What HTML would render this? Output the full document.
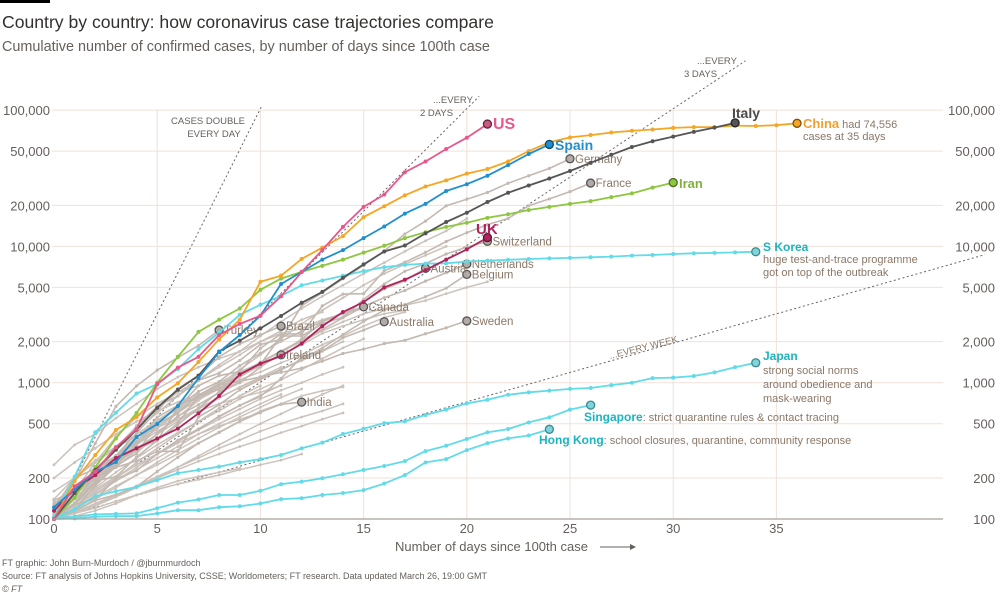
<!DOCTYPE html>
<html><head><meta charset="utf-8"><style>
html,body{margin:0;padding:0;background:#fff;}
body{width:1000px;height:593px;overflow:hidden;font-family:"Liberation Sans",sans-serif;}
svg text{font-family:"Liberation Sans",sans-serif;}
</style></head><body>
<svg id="chart" width="1000" height="593" viewBox="0 0 1000 593" xmlns="http://www.w3.org/2000/svg">
<rect x="0" y="0" width="50" height="3" fill="#000"/>
<text x="2" y="28" font-size="17.6" fill="#33302e">Country by country: how coronavirus case trajectories compare</text>
<text x="2" y="51" font-size="14.4" fill="#66605c">Cumulative number of confirmed cases, by number of days since 100th case</text>
<g id="grid"></g>
<g id="refs"></g>
<g id="grays"></g>
<g id="series"></g>
<g id="axes"></g>
<g font-size="9.5" fill="#66605c">
<text x="208" y="124" text-anchor="middle">CASES DOUBLE</text>
<text x="214" y="137" text-anchor="middle">EVERY DAY</text>
<text x="433" y="103">...EVERY</text>
<text x="420" y="116">2 DAYS</text>
<text x="697" y="64">...EVERY</text>
<text x="684" y="77">3 DAYS</text>
<text x="610" y="359" fill="#8a7868" transform="rotate(-14 610 359)">...EVERY WEEK</text>
</g>
<g font-size="11" fill="#8a7868">
<text x="493" y="129" font-size="16" font-weight="bold" fill="#e8578a">US</text>
<text x="555" y="150" font-size="14" font-weight="bold" fill="#1f8fce">Spain</text>
<text x="732" y="118" font-size="14" font-weight="bold" fill="#4a4a4a">Italy</text>
<text x="803" y="128"><tspan font-size="13" font-weight="bold" fill="#f0a030">China</tspan> had 74,556</text>
<text x="803" y="140">cases at 35 days</text>
<text x="679" y="188" font-size="13" font-weight="bold" fill="#7eb23a">Iran</text>
<text x="476" y="234" font-size="15" font-weight="bold" fill="#b0245c">UK</text>
<text x="763" y="251" font-size="12" font-weight="bold" fill="#1ab5bf">S Korea</text>
<text x="763" y="263">huge test-and-trace programme</text>
<text x="763" y="276">got on top of the outbreak</text>
<text x="763" y="360" font-size="12" font-weight="bold" fill="#1ab5bf">Japan</text>
<text x="763" y="374">strong social norms</text>
<text x="763" y="388">around obedience and</text>
<text x="763" y="402">mask-wearing</text>
<text x="584" y="421"><tspan font-size="12" font-weight="bold" fill="#1ab5bf">Singapore</tspan>: strict quarantine rules &amp; contact tracing</text>
<text x="539" y="444"><tspan font-size="12" font-weight="bold" fill="#1ab5bf">Hong Kong</tspan>: school closures, quarantine, community response</text>
</g>
<text x="395" y="551" font-size="13" fill="#66605c">Number of days since 100th case</text>
<line x1="600" y1="547" x2="632" y2="547" stroke="#66605c" stroke-width="1"/>
<polygon points="630,544 636,547 630,550" fill="#66605c"/>
<g font-size="9" fill="#66605c">
<text x="2" y="566">FT graphic: John Burn-Murdoch / @jburnmurdoch</text>
<text x="2" y="579">Source: FT analysis of Johns Hopkins University, CSSE; Worldometers; FT research. Data updated March 26, 19:00 GMT</text>
<text x="2" y="592" font-style="italic">© FT</text>
</g>
</svg>
<script>
const xTicks=[0,5,10,15,20,25,30,35];
const yTicks=[100,200,500,1000,2000,5000,10000,20000,50000,100000];
const yTickLabels=["100","200","500","1,000","2,000","5,000","10,000","20,000","50,000","100,000"];
const doublingDays=[1,2,3,7];
const usCases=[100,174,222,337,457,977,1290,1550,2240,2700,3100,4300,6500,9400,13900,19500,24000,35000,42000,51800,62700,79000];
const spainCases=[122,165,222,262,400,498,675,1080,1680,2240,3100,5300,6500,8000,9400,11500,14000,17400,20500,25500,28600,33000,39500,47600,56000];
const italyCases=[100,155,229,322,453,655,888,1128,1694,2036,2502,3089,3858,4636,5883,7375,9172,10149,12462,15113,17660,21157,24747,27980,31506,35713,41035,47021,53578,59138,63927,69176,74386,80589];
const chinaCases=[100,190,295,450,560,780,990,1420,2080,2900,5500,6100,8100,9800,11900,16400,19700,23700,27500,30500,34200,37000,42000,50000,58000,63000,65600,68500,70500,72000,74000,75000,75000,77000,76500,77500,80000];
const iranCases=[100,143,240,390,600,1000,1550,2360,2900,3500,4800,5800,6500,7200,8000,9000,10100,11500,12700,13900,14900,16200,17200,18500,19500,20500,21500,23000,24500,27000,29400];
const ukCases=[115,165,210,280,330,390,460,595,800,1150,1380,1570,1940,2600,3300,3900,5000,5700,6700,8000,9500,11600];
const sKoreaCases=[104,204,433,602,833,977,1261,1766,2337,3150,3736,4335,5186,5621,6088,6593,7041,7314,7478,7513,7755,7869,7979,8086,8162,8236,8320,8413,8565,8652,8799,8897,8961,9037,9137];
const japanCases=[100,118,147,160,172,193,217,229,242,260,275,295,330,363,420,460,505,520,580,635,705,750,815,850,875,900,915,960,1000,1080,1090,1120,1190,1300,1400];
const singaporeCases=[102,104,108,109,110,120,132,139,150,150,161,180,188,199,213,229,245,266,315,345,386,432,457,511,557,635,685];
const hongKongCases=[100,101,104,105,105,110,116,116,122,124,130,140,142,150,155,163,182,210,260,275,320,360,390,410,455];
const germanyCases=[130,159,196,262,482,670,799,1040,1176,1457,1908,2078,3675,4585,5795,7272,9257,12327,15320,19848,22213,24873,29056,32986,37323,43938];
const franceCases=[100,130,191,204,285,377,653,949,1126,1209,1784,2281,2281,3661,4469,4499,6633,7652,9043,10871,12612,14459,16018,19856,22304,25233,29155];
const switzerlandCases=[100,130,214,268,337,374,491,652,858,1125,1359,2200,2200,2700,3028,4075,5294,6575,7474,8795,9877,10897];
const netherlandsCases=[100,128,188,265,321,382,503,804,959,1135,1413,1705,2051,2460,2994,3631,4204,4749,5560,6412,7431];
const belgiumCases=[109,169,200,239,267,314,314,559,689,886,1058,1243,1486,1795,2257,2815,3401,3743,4269,4937,6235];
const austriaCases=[102,131,182,246,302,504,655,860,1018,1332,1646,2013,2388,2814,3244,3924,4876,5588,6909];
const canadaCases=[103,117,176,244,304,424,569,690,846,1000,1300,1650,2088,2792,3251,3600];
const australiaCases=[107,128,140,197,226,300,377,453,568,681,791,1071,1549,1709,2136,2431,2800];
const swedenCases=[137,161,203,248,355,500,599,814,961,1022,1103,1190,1279,1439,1639,1763,1934,2046,2286,2526,2840];
const turkeyCases=[100,191,359,670,947,1236,1529,1872,2433];
const brazilCases=[121,200,234,291,428,621,904,1128,1546,1924,2247,2600];
const irelandCases=[129,169,223,292,366,557,683,785,906,1125,1329,1600];
const indiaCases=[100,114,137,151,173,223,283,360,433,519,606,694,720];
const otherCases=[
[250,350,420,550,700,900,1100,1300,1500,1700,2000,2300,2500,2900,3200,3500],
[100,150,230,330,480,650,850,1050,1300,1600,2000,2400,2900,3300],
[100,130,170,220,280,350,430,520,620,760,900,1050,1250,1500,1800,2100],
[110,140,190,260,350,470,620,800,1000,1200,1400,1700],
[100,120,150,200,260,330,420,520,650,800,950],
[120,160,210,280,360,460,600,760,900],
[100,115,140,170,210,260,320,390,470,560,660,780,900],
[100,140,200,290,400,520,640,780,920,1050,1200,1400,1600,1900,2200,2600,3000,3300],
[105,125,155,190,230,280,340,420,500,590,700,820],
[100,160,260,400,560,700,850,950],
[130,170,220,290,380,480,610,750,900,1100,1350,1600,1900,2300,2600,2900,3200,3400],
[100,112,130,150,175,205,240,280,330,380,440,500,560,620,700],
[100,125,160,200,250,300,370,450,540,640,760,880,1000,1150,1300],
[115,150,200,270,350,440,540,650,780,920,1080,1250,1450,1700,2000],
[100,110,125,145,170,200,240,290,350,420,500,590,700,820,950],
[100,130,165,205,250,300,360,420,480,540,600],
[100,120,145,175,210,250,300,360,430,520,620,700,800,870,930],
[100,110,120,135,150,165,180,195,210,230,250,270,300],
[100,105,115,130,150,170,190,205,220,235],
[100,140,190,250,330,420,520,640,770,930,1100,1300],
[160,200,260,330,420,530,660,810,980,1180,1400,1700,2000,2400,2800,3200,3500,3700,4000,4500,5000,5500],
[100,130,180,240,320,420,560,740,960,1250,1600,2100,2700,3400,4200,5200,6300,7400,8600,10000],
[100,150,220,320,450,600,800,1050,1350,1700,2200,2800,3500,4300,5200,6300,7600,9200,11000,13000,16000],
[140,200,270,340,400,470,540,620,700,780,850,950],
[100,120,150,190,240,300,380,460,560,680,810,960],
[200,260,330,420,520,620,720,820,900,1000],
[100,112,128,148,172,200,230,265,300,340,380,430,480,540,600]
];
const labeledGrayNames=["Germany","France","Switzerland","Netherlands","Belgium","Austria","Canada","Australia","Sweden","Turkey","Brazil","Ireland","India"];
const labeledGraySeries=[germanyCases,franceCases,switzerlandCases,netherlandsCases,belgiumCases,austriaCases,canadaCases,australiaCases,swedenCases,turkeyCases,brazilCases,irelandCases,indiaCases];

const NS="http://www.w3.org/2000/svg";
const X0=54, DX=20.64, Y0=519, DEC=136.3, XR=943;
function xs(d){return X0+d*DX;}
function ys(v){return Y0-DEC*Math.log10(v/100);}
function mk(tag,attrs,parent){const e=document.createElementNS(NS,tag);for(const k in attrs)e.setAttribute(k,attrs[k]);parent.appendChild(e);return e;}

const grid=document.getElementById('grid');
yTicks.forEach((v,i)=>{
  const l=mk('line',{x1:52,x2:XR,y1:ys(v),y2:ys(v),stroke:'#efe2d8','stroke-width':1},grid);
  
  
});
xTicks.forEach(d=>{ if(d===0)return;
  const l=mk('line',{x1:xs(d),x2:xs(d),y1:ys(100000),y2:Y0,stroke:'#efe2d8','stroke-width':1},grid);
  
  
});
const axes=document.getElementById('axes');
const base=mk('line',{x1:52,x2:XR,y1:Y0,y2:Y0,stroke:'#a8a09a','stroke-width':1.2},axes);


yTicks.forEach((v,i)=>{
  const t=mk('text',{x:50,y:ys(v)+5,'text-anchor':'end','font-size':13,fill:'#66605c'},axes);
  t.textContent=yTickLabels[i];
  
  
  const r=mk('text',{x:995,y:ys(v)+5,'text-anchor':'end','font-size':13,fill:'#66605c'},axes);
  r.textContent=yTickLabels[i];
  
  
});
xTicks.forEach(d=>{
  const t=mk('text',{x:xs(d),y:533,'text-anchor':'middle','font-size':13,fill:'#66605c'},axes);
  t.textContent=String(d);
  
  
});
const refs=document.getElementById('refs');
const refEnds=[10.05,20.6,33.5,45.1];
doublingDays.forEach((p,i)=>{
  const dEnd=refEnds[i];
  const l=mk('line',{x1:xs(0),y1:ys(100),x2:xs(dEnd),y2:ys(100*Math.pow(2,dEnd/p)),stroke:'#666','stroke-width':1,'stroke-dasharray':'2,2.5'},refs);
  
  
});
function pathOf(arr){return arr.map((v,i)=>(i?'L':'M')+xs(i).toFixed(1)+','+ys(v).toFixed(1)).join('');}
function drawSeries(arr,color,parent,w,dotR,endFill,endStroke){
  const g=mk('g',{},parent);
  const p=mk('path',{d:pathOf(arr),fill:'none',stroke:color,'stroke-width':w,'stroke-linejoin':'round'},g);
  
  
  arr.forEach((v,i)=>{ if(i===arr.length-1&&endFill)return;
    const c=mk('circle',{cx:xs(i),cy:ys(v),r:dotR,fill:color},g);
    
    
  });
  if(endFill){
    const n=arr.length-1;
    const c=mk('circle',{cx:xs(n),cy:ys(arr[n]),r:4,fill:endFill,stroke:endStroke,'stroke-width':1.3},g);
    
    
  }
  return g;
}
const grays=document.getElementById('grays');
otherCases.forEach(a=>{
  const g=drawSeries(a,'#cbc2bb',grays,1.5,1.4,null,null);
  
  
});
labeledGraySeries.forEach((a,i)=>{
  const g=drawSeries(a,'#c3b9b1',grays,1.6,1.6,'#b3aba5','#555');
  
  
  const n=a.length-1;
  const t=mk('text',{x:xs(n)+5,y:ys(a[n])+4,'font-size':11.5,fill:'#8a7868'},grays);
  t.textContent=labeledGrayNames[i];
  
  
});
const series=document.getElementById('series');
const cyan='#62dbe8';
[[hongKongCases,'hong-kong'],[singaporeCases,'singapore'],[japanCases,'japan'],[sKoreaCases,'s-korea']].forEach(([a,n])=>{
  const g=drawSeries(a,cyan,series,1.8,2,'#7fd3da','#3a8a90');
  
  
});
let g;
g=drawSeries(ukCases,'#b0245c',series,1.8,2,'#b0245c','#5a1030');


g=drawSeries(iranCases,'#8dc63f',series,1.8,2,'#8dc63f','#4d6e20');


g=drawSeries(chinaCases,'#f5a623',series,1.8,2,'#f5a623','#7a5210');


g=drawSeries(italyCases,'#555',series,1.8,2,'#555','#222');


g=drawSeries(spainCases,'#1f8fce',series,1.8,2,'#1f8fce','#0e4a6e');


g=drawSeries(usCases,'#e8578a',series,1.8,2,'#c85a80','#6a2040');


</script>
</body></html>
